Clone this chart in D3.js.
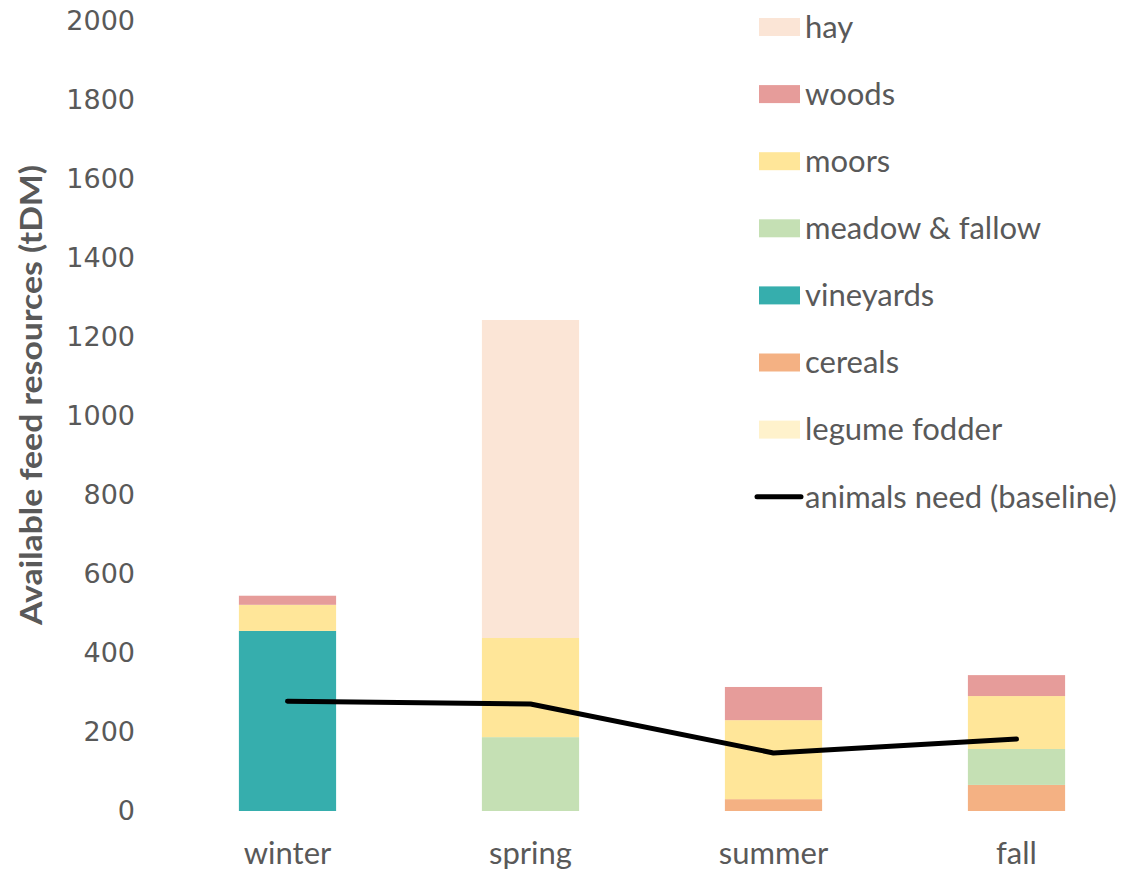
<!DOCTYPE html>
<meta charset="utf-8">
<style>
  body { margin: 0; background: #fff; }
</style>
<body>
<script src="https://cdn.jsdelivr.net/npm/d3@7"></script>
<script>

    var width = 1132,
        height = 872;

    var seasons = ["winter", "spring", "summer", "fall"];
    // stacked bottom to top
    var resources = ["legume fodder", "cereals", "vineyards", "meadow & fallow", "moors", "woods", "hay"];
    var resourceColors = ["#FFF2CC", "#F4B183", "#36AEAD", "#C5E0B4", "#FFE699", "#E69C9A", "#FBE5D6"];

    var legumeFodder = [0, 0, 0, 0];
    var cereals      = [0, 0, 30, 66];
    var vineyards    = [456, 0, 0, 0];
    var meadow       = [0, 187, 0, 91];
    var moors        = [66, 251, 200, 134];
    var woods        = [23, 0, 84, 53];
    var hay          = [0, 805, 0, 0];
    var animalsNeed  = [278, 271, 147, 182];

    var yTicks = [0, 200, 400, 600, 800, 1000, 1200, 1400, 1600, 1800, 2000];

    var seriesValues = [legumeFodder, cereals, vineyards, meadow, moors, woods, hay];

    var rows = seasons.map(function(s, i) {
        var r = { season: s };
        resources.forEach(function(k, j) { r[k] = seriesValues[j][i]; });
        return r;
    });

    var stack = d3.stack().keys(resources)(rows);

    var svg = d3.select("body").append("svg")
            .attr("width", width)
            .attr("height", height);

    var x = d3.scaleBand()
            .domain(seasons)
            .range([166, 1138])
            .paddingInner(0.6)
            .paddingOuter(0.3);

    var y = d3.scaleLinear()
            .domain([0, 2000])
            .range([811, 21]);

    var color = d3.scaleOrdinal().domain(resources).range(resourceColors);

    // bars
    svg.append("g").selectAll("g")
        .data(stack)
        .enter().append("g")
        .attr("fill", function(d) { return color(d.key); })
        .selectAll("rect")
        .data(function(d) { return d; })
        .enter().append("rect")
        .attr("x", function(d) { return x(d.data.season); })
        .attr("width", x.bandwidth())
        .attr("y", function(d) { return y(d[1]); })
        .attr("height", function(d) { return y(d[0]) - y(d[1]); });

    // baseline line
    var line = d3.line()
            .x(function(d, i) { return x(seasons[i]) + x.bandwidth() / 2; })
            .y(function(d) { return y(d); });

    svg.append("path")
        .datum(animalsNeed)
        .attr("d", line)
        .attr("fill", "none")
        .attr("stroke", "#000")
        .attr("stroke-width", 5)
        .attr("stroke-linecap", "round")
        .attr("stroke-linejoin", "round");

    // y axis
    var yAxis = d3.axisLeft(y).tickValues(yTicks).tickFormat(d3.format("d")).tickSize(0).tickPadding(0);
    var gy = svg.append("g").attr("transform", "translate(135,0)").call(yAxis)
        .attr("font-family", "DejaVu Sans")
        .attr("font-size", 27);
    gy.select(".domain").remove();
    gy.selectAll("text").attr("fill", "#595959");

    // x axis
    var xAxis = d3.axisBottom(x).tickSize(0).tickPadding(0);
    var gx = svg.append("g").attr("transform", "translate(0,842)").call(xAxis)
        .attr("font-family", "Lato")
        .attr("font-size", 31);
    gx.select(".domain").remove();
    gx.selectAll("text").attr("fill", "#595959");

    // y title
    svg.append("text")
        .attr("transform", "translate(42,395) rotate(-90)")
        .attr("text-anchor", "middle")
        .attr("font-family", "Lato")
        .attr("font-size", 31)
        .attr("font-weight", "bold")
        .attr("fill", "#595959")
        .attr("textLength", 460)
        .attr("lengthAdjust", "spacingAndGlyphs")
        .text("Available feed resources (tDM)");

    // legend
    var legendItems = resources.slice().reverse();
    var legend = svg.append("g").attr("transform", "translate(759,0)");
    var item = legend.selectAll("g")
        .data(legendItems.concat(["animals need (baseline)"]))
        .enter().append("g")
        .attr("transform", function(d, i) { return "translate(0," + (27 + i * 67.1) + ")"; });

    item.each(function(d, i) {
        var g = d3.select(this);
        if (i < legendItems.length) {
            g.append("rect")
                .attr("x", 0).attr("y", -9)
                .attr("width", 41).attr("height", 18)
                .attr("fill", color(d));
        } else {
            g.append("line")
                .attr("x1", -2).attr("x2", 42)
                .attr("stroke", "#000").attr("stroke-width", 5)
                .attr("stroke-linecap", "round");
        }
        g.append("text")
            .attr("x", 46)
            .attr("dy", "0.35em")
            .attr("font-family", "Lato")
            .attr("font-size", 31)
            .attr("fill", "#595959")
            .text(d);
    });

</script>
